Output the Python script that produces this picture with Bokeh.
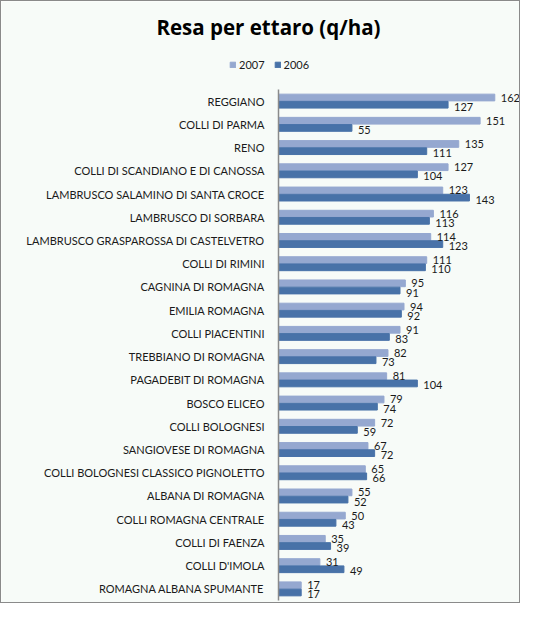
from bokeh.plotting import figure
from bokeh.models import (ColumnDataSource, Range1d, Legend, LegendItem, Label,
                          FixedTicker)
from bokeh.transform import dodge
from bokeh.core.properties import value
from bokeh.embed import file_html
from bokeh.resources import INLINE

# data, top to bottom as in the chart
zone = ["REGGIANO", "COLLI DI PARMA", "RENO", "COLLI DI SCANDIANO E DI CANOSSA",
        "LAMBRUSCO SALAMINO DI SANTA CROCE", "LAMBRUSCO DI SORBARA",
        "LAMBRUSCO GRASPAROSSA DI CASTELVETRO", "COLLI DI RIMINI", "CAGNINA DI ROMAGNA",
        "EMILIA ROMAGNA", "COLLI PIACENTINI", "TREBBIANO DI ROMAGNA", "PAGADEBIT DI ROMAGNA",
        "BOSCO ELICEO", "COLLI BOLOGNESI", "SANGIOVESE DI ROMAGNA",
        "COLLI BOLOGNESI CLASSICO PIGNOLETTO", "ALBANA DI ROMAGNA", "COLLI ROMAGNA CENTRALE",
        "COLLI DI FAENZA", "COLLI D'IMOLA", "ROMAGNA ALBANA SPUMANTE"]
resa_2007 = [162, 151, 135, 127, 123, 116, 114, 111, 95, 94, 91, 82, 81, 79, 72, 67, 65, 55, 50, 35, 31, 17]
resa_2006 = [127, 55, 111, 104, 143, 113, 123, 110, 91, 92, 83, 73, 104, 74, 59, 72, 66, 52, 43, 39, 49, 17]
years = ["2007", "2006"]
title = "Resa per ettaro (q/ha)"

FONT = "Lato"
BG = "#f7fbf8"
light = "#95a8d0"
dark = "#4872a8"
ink = "#1a1a1a"

# page geometry (px) - the frame covers the whole canvas, the axis sits inside it
W, H = 520, 603
AX_X = 277          # where the category axis is drawn
X_MAX = 182         # value at the right edge
ROWS_TOP, ROWS_BOTTOM = 88, 599

n = len(zone)
row = list(range(n - 1, -1, -1))        # first category on top
pitch = (ROWS_BOTTOM - ROWS_TOP) / n
unit = (W - AX_X) / X_MAX

source = ColumnDataSource(data=dict(
    zone=zone, row=row, y2007=resa_2007, y2006=resa_2006,
    t2007=[str(v) for v in resa_2007], t2006=[str(v) for v in resa_2006]))

p = figure(width=W, height=H, output_backend="svg", toolbar_location=None,
           x_range=Range1d(-AX_X / unit, X_MAX),
           y_range=Range1d(-0.5 - (H - ROWS_BOTTOM) / pitch, n - 0.5 + ROWS_TOP / pitch),
           min_border=0)
p.background_fill_color = BG
p.border_fill_color = BG
p.outline_line_color = None
p.styles = {"border": "1px solid #8a8a8a"}

r07 = p.hbar(y=dodge("row", 0.155), right="y2007", left=0, height=0.29,
             source=source, color=light)
r06 = p.hbar(y=dodge("row", -0.155), right="y2006", left=0, height=0.29,
             source=source, color=dark)

p.text(x="y2007", y=dodge("row", 0.155), text="t2007", source=source,
       x_offset=6, y_offset=0, text_baseline="middle", text_font=value(FONT),
       text_font_size="11px", text_color=ink)
p.text(x="y2006", y=dodge("row", -0.155), text="t2006", source=source,
       x_offset=6, y_offset=2, text_baseline="middle", text_font=value(FONT),
       text_font_size="11px", text_color=ink)

p.xaxis.visible = False
p.xgrid.visible = False
p.ygrid.visible = False
yax = p.yaxis[0]
yax.fixed_location = 0
yax.bounds = (-0.5, n - 0.5)
yax.ticker = FixedTicker(ticks=row)
yax.major_label_overrides = {r: z for r, z in zip(row, zone)}
yax.axis_line_color = "#8a8a8a"
yax.axis_line_width = 1.5
yax.major_tick_line_color = None
yax.minor_tick_line_color = None
yax.major_label_standoff = 8
yax.major_label_text_font = FONT
yax.major_label_text_font_size = "11px"
yax.major_label_text_color = ink

p.add_layout(Label(x=267, y=H - 25, x_units="screen", y_units="screen",
                   text=title, text_align="center", text_baseline="middle",
                   text_font="Open Sans", text_font_size="20.5px", text_font_style="bold",
                   text_color="#000000"))

legend = Legend(items=[LegendItem(label=years[0], renderers=[r07]),
                       LegendItem(label=years[1], renderers=[r06])],
                orientation="horizontal", location=(228, H - 70))
legend.glyph_width = 7
legend.glyph_height = 7
legend.label_standoff = 3
legend.spacing = 9
legend.padding = 0
legend.margin = 0
legend.label_height = 12
legend.label_text_font = FONT
legend.label_text_font_size = "11px"
legend.label_text_color = ink
legend.border_line_color = None
legend.background_fill_alpha = 0
p.add_layout(legend)

open("out.html", "w").write(file_html(p, INLINE))
